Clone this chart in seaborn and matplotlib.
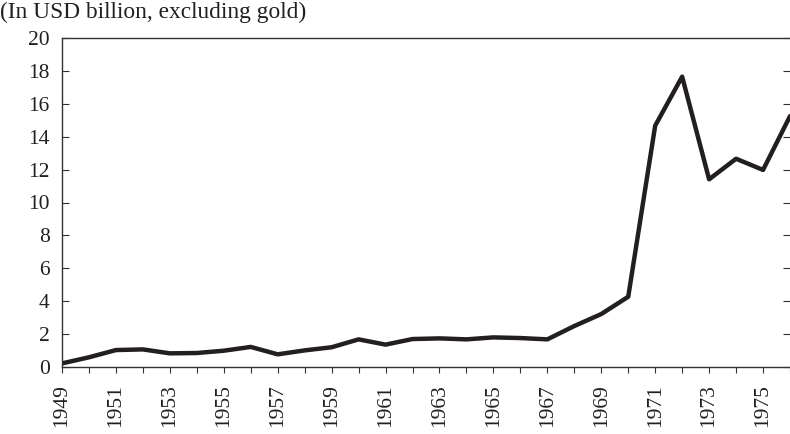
import numpy as np
import pandas as pd
import seaborn as sns
import matplotlib.pyplot as plt

# reserves, USD billion (excluding gold)
years = list(range(1949, 1977))
reserves = [0.22, 0.59, 1.03, 1.07, 0.83, 0.85, 0.99, 1.22, 0.77, 1.01,
            1.20, 1.68, 1.36, 1.70, 1.74, 1.68, 1.80, 1.76, 1.68, 2.49,
            3.22, 4.27, 14.67, 17.65, 11.41, 12.66, 11.98, 15.25]
label_years = list(range(1949, 1977, 2))
y_ticks = list(range(0, 21, 2))

df = pd.DataFrame({'year': years, 'reserves': reserves})

sns.set_style('ticks')
plt.rcParams['font.family'] = ['Liberation Serif', 'DejaVu Serif']

fig = plt.figure(figsize=(7.9, 4.34), dpi=100)
ax = fig.add_axes([62 / 790, 1 - 367 / 434, 1 - 62 / 790, (367 - 38) / 434])

sns.lineplot(data=df, x='year', y='reserves', color='#231f20',
             linewidth=3.2, ax=ax)

ax.set_xlim(1949, 1975.82)
ax.set_ylim(0, 20)
ax.set_xticks(label_years)
ax.set_xticklabels([str(y) for y in label_years], rotation=90)
ax.set_xticks(years, minor=True)
ax.set_yticks(y_ticks)
ax.tick_params(axis='x', which='both', direction='out', length=4.5,
               width=0.8, color='#333333', labelsize=15.5, pad=8,
               labelcolor='#231f20')
ax.tick_params(axis='y', which='both', direction='in', length=5,
               width=0.8, color='#333333', labelsize=15.5, pad=9,
               right=True, labelcolor='#231f20')
for side in ['left', 'bottom', 'top']:
    ax.spines[side].set_color('#333333')
    ax.spines[side].set_linewidth(1.0)
ax.spines['right'].set_visible(False)
ax.set_xlabel('')
ax.set_ylabel('')

fig.text(0.0, 1 - 2 / 434, '(In USD billion, excluding gold)', ha='left',
         va='top', fontsize=16.8, color='#231f20')

fig.savefig('out.png', dpi=100)
